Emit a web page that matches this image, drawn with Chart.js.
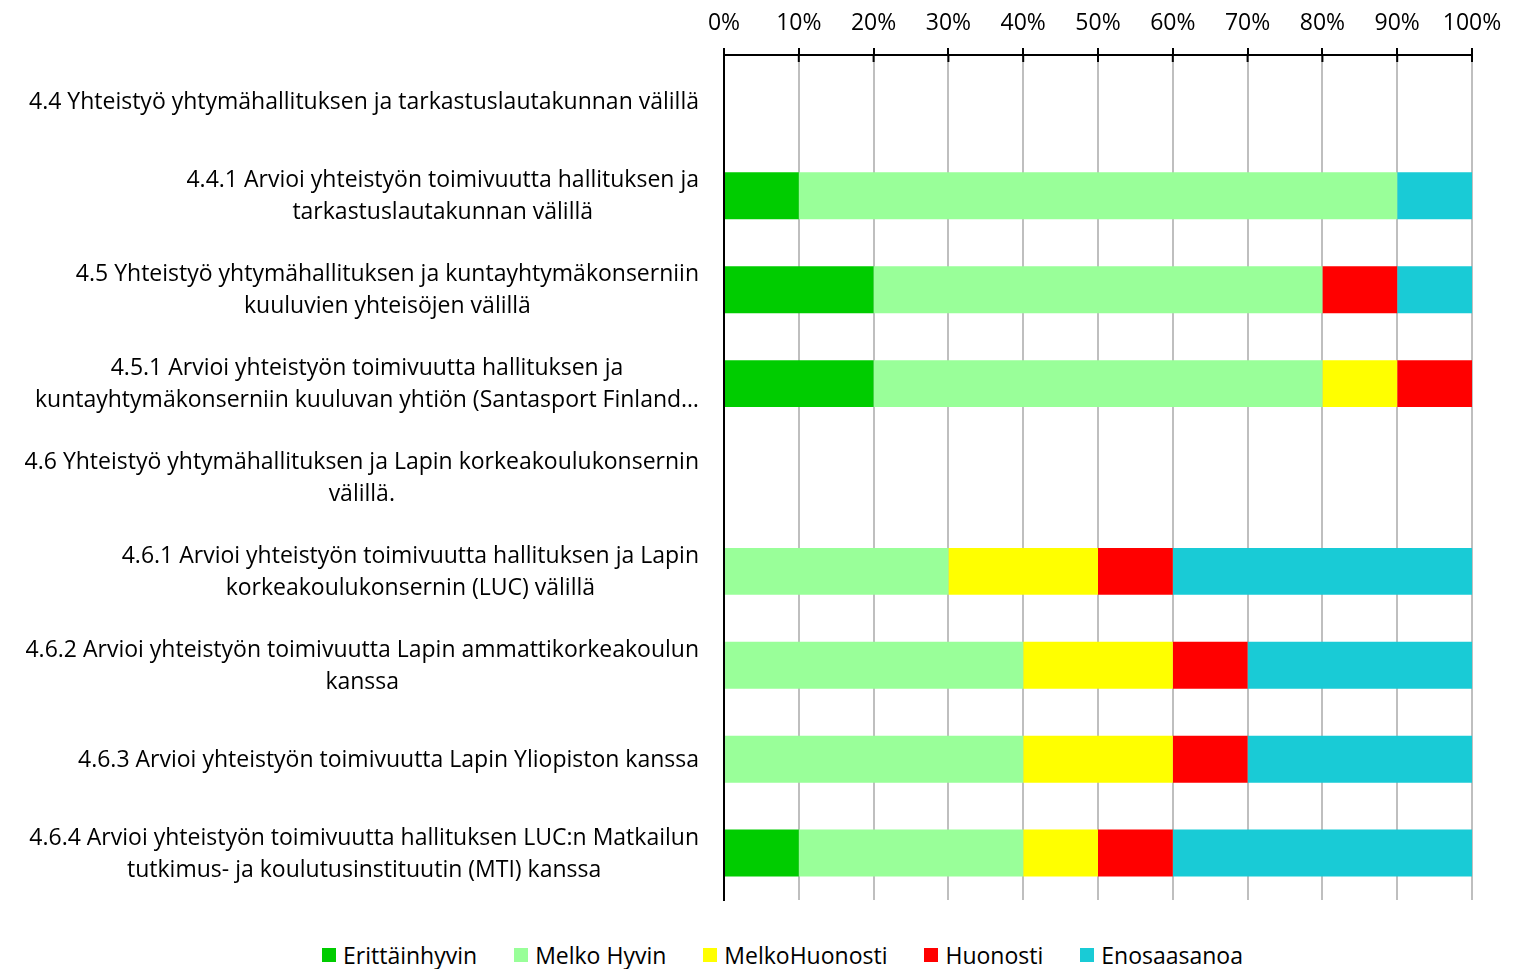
<!DOCTYPE html>
<html lang="fi">
<head>
<meta charset="utf-8">
<title>Yhteistyö</title>
<script src="https://cdn.jsdelivr.net/npm/chart.js@4.4.1/dist/chart.umd.min.js"></script>
<style>
    html, body { margin: 0; padding: 0; background: #fff; }
    #wrap { position: relative; width: 1513px; height: 969px; font-family: "Open Sans", sans-serif; }
    #chartBox { position: absolute; left: 0; top: 0; width: 1513px; height: 915px; }
    #legend {
        position: absolute; left: 26px; top: 939px; width: 1513px;
        display: flex; justify-content: center; gap: 37px;
        font-size: 23px; color: #000; line-height: 32px;
    }
    .legend__item { display: flex; align-items: center; white-space: nowrap; }
    .legend__box { width: 14px; height: 14px; margin-right: 7px; }
</style>
</head>
<body>
<div id="wrap">
    <div id="chartBox"><canvas id="chart"></canvas></div>
    <div id="legend"></div>
</div>
<script>
// Kysymykset (rivit ylhäältä alas)
const categories = [
    ['4.4 Yhteistyö yhtymähallituksen ja tarkastuslautakunnan välillä'],
    ['4.4.1 Arvioi yhteistyön toimivuutta hallituksen ja', 'tarkastuslautakunnan välillä'],
    ['4.5 Yhteistyö yhtymähallituksen ja kuntayhtymäkonserniin', 'kuuluvien yhteisöjen välillä'],
    ['4.5.1 Arvioi yhteistyön toimivuutta hallituksen ja', 'kuntayhtymäkonserniin kuuluvan yhtiön (Santasport Finland…'],
    ['4.6 Yhteistyö yhtymähallituksen ja Lapin korkeakoulukonsernin', 'välillä.'],
    ['4.6.1 Arvioi yhteistyön toimivuutta hallituksen ja Lapin', 'korkeakoulukonsernin (LUC) välillä'],
    ['4.6.2 Arvioi yhteistyön toimivuutta Lapin ammattikorkeakoulun', 'kanssa'],
    ['4.6.3 Arvioi yhteistyön toimivuutta Lapin Yliopiston kanssa'],
    ['4.6.4 Arvioi yhteistyön toimivuutta hallituksen LUC:n Matkailun', 'tutkimus- ja koulutusinstituutin (MTI) kanssa']
];

// Vastausten osuudet (%)
const erittainHyvin = [null, 10, 20, 20, null, 0, 0, 0, 10];
const melkoHyvin    = [null, 80, 60, 60, null, 30, 40, 40, 30];
const melkoHuonosti = [null, 0, 0, 10, null, 20, 20, 20, 10];
const huonosti      = [null, 0, 10, 10, null, 10, 10, 10, 10];
const enosaa        = [null, 10, 10, 0, null, 40, 30, 30, 40];

const seriesNames  = ['Erittäinhyvin', 'Melko Hyvin', 'MelkoHuonosti', 'Huonosti', 'Enosaasanoa'];
const seriesColors = ['#00CC00', '#99FF99', '#FFFF00', '#FF0000', '#19CBD6'];
const seriesData   = [erittainHyvin, melkoHyvin, melkoHuonosti, huonosti, enosaa];

const xTicks = [0, 10, 20, 30, 40, 50, 60, 70, 80, 90, 100];

const FONT = '"Open Sans", sans-serif';

// Kategorioiden tekstit: rivit keskitetty, lohko oikealle tasattu
const yLabelPlugin = {
    id: 'yLabels',
    afterDraw(chart) {
        const { ctx, scales: { y } } = chart;
        const right = y.right - 25;
        ctx.save();
        ctx.font = `23px ${FONT}`;
        ctx.fillStyle = '#000';
        ctx.textAlign = 'center';
        ctx.textBaseline = 'middle';
        categories.forEach((lines, i) => {
            const yc = y.getPixelForValue(i) + 1;
            const w = Math.max(...lines.map(l => ctx.measureText(l).width));
            const cx = right - w / 2;
            lines.forEach((l, j) => {
                ctx.fillText(l, cx, yc + (j - (lines.length - 1) / 2) * 32);
            });
        });
        ctx.restore();
    }
};

// Akselin merkit ristiin x-akselin yli
const tickCrossPlugin = {
    id: 'tickCross',
    afterDraw(chart) {
        const { ctx, scales: { x } } = chart;
        ctx.save();
        ctx.strokeStyle = '#000';
        ctx.lineWidth = 2;
        xTicks.forEach(v => {
            const px = x.getPixelForValue(v);
            ctx.beginPath();
            ctx.moveTo(px, x.bottom);
            ctx.lineTo(px, x.bottom + 7);
            ctx.stroke();
        });
        ctx.restore();
    }
};

const datasets = seriesNames.map((name, i) => ({
    label: name,
    data: seriesData[i],
    backgroundColor: seriesColors[i],
    borderWidth: 0,
    categoryPercentage: 0.5,
    barPercentage: 1.0
}));

new Chart(document.getElementById('chart'), {
    type: 'bar',
    data: { labels: categories.map(c => c.join(' ')), datasets },
    options: {
        indexAxis: 'y',
        responsive: true,
        maintainAspectRatio: false,
        animation: false,
        layout: { padding: { left: 0, right: 41, top: 0, bottom: 15 } },
        plugins: {
            legend: { display: false },
            tooltip: { enabled: false }
        },
        scales: {
            x: {
                position: 'top',
                stacked: true,
                min: 0,
                max: 100,
                afterBuildTicks: (scale) => { scale.ticks = xTicks.map(v => ({ value: v })); },
                afterFit: (scale) => { scale.height = 55; },
                ticks: {
                    callback: (v) => v + '%',
                    font: { family: FONT, size: 23 },
                    color: '#000',
                    padding: 11,
                    maxRotation: 0
                },
                grid: {
                    color: '#BFBFBF',
                    lineWidth: 2,
                    tickLength: 7,
                    tickColor: '#000'
                },
                border: { display: true, color: '#000', width: 2 }
            },
            y: {
                stacked: true,
                afterFit: (scale) => { scale.width = 724; },
                ticks: { display: false },
                grid: { display: false },
                border: { display: true, color: '#000', width: 2 }
            }
        }
    },
    plugins: [yLabelPlugin, tickCrossPlugin]
});

// Selite
document.getElementById('legend').innerHTML = seriesNames.map((name, i) => `
    <div class="legend__item">
        <span class="legend__box" style="background: ${seriesColors[i]};"></span>
        <span>${name}</span>
    </div>
`).join('');
</script>
</body>
</html>
